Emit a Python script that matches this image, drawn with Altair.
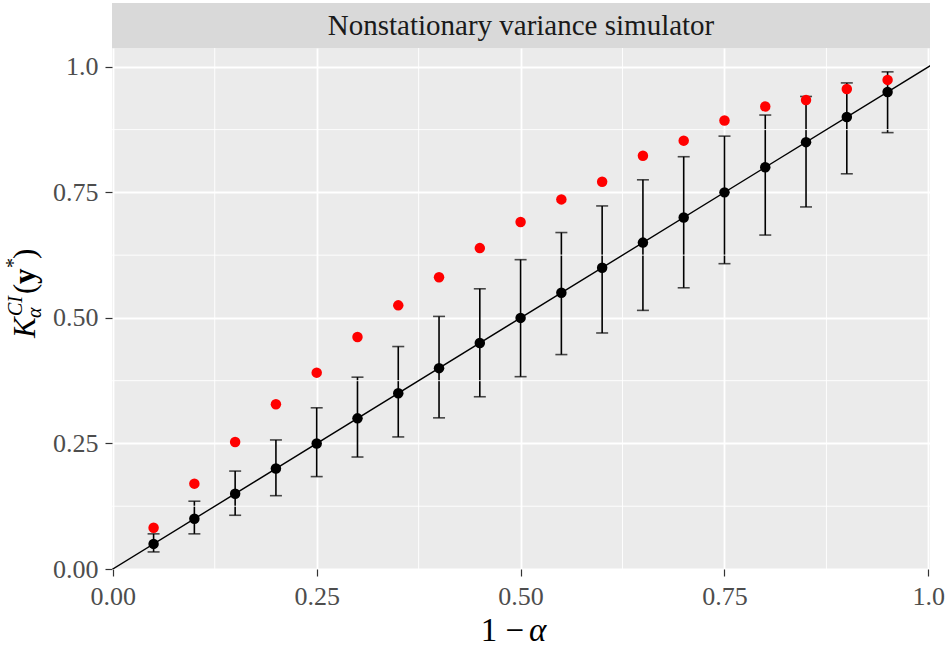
import altair as alt
import pandas as pd

# ---- data ----
levels = [0.05, 0.10, 0.15, 0.20, 0.25, 0.30, 0.35, 0.40, 0.45, 0.50,
          0.55, 0.60, 0.65, 0.70, 0.75, 0.80, 0.85, 0.90, 0.95]
nominal = [0.05, 0.10, 0.15, 0.20, 0.25, 0.30, 0.35, 0.40, 0.45, 0.50,
           0.55, 0.60, 0.65, 0.70, 0.75, 0.80, 0.85, 0.90, 0.95]
lower = [0.034, 0.070, 0.107, 0.146, 0.184, 0.223, 0.263, 0.301, 0.343, 0.383,
         0.427, 0.470, 0.515, 0.560, 0.608, 0.665, 0.721, 0.787, 0.869]
upper = [0.070, 0.135, 0.195, 0.257, 0.321, 0.382, 0.443, 0.503, 0.558, 0.616,
         0.670, 0.723, 0.775, 0.821, 0.862, 0.904, 0.941, 0.968, 0.990]
observed = [0.082, 0.170, 0.253, 0.328, 0.391, 0.462, 0.525, 0.581, 0.639, 0.691,
            0.736, 0.771, 0.823, 0.853, 0.893, 0.921, 0.934, 0.956, 0.974]

ref_x = [-0.05, 1.1]
major_ticks = [0.0, 0.25, 0.5, 0.75, 1.0]
minor_ticks = [0.125, 0.375, 0.625, 0.875]

strip_title = "Nonstationary variance simulator"

df = pd.DataFrame({"level": levels, "nominal": nominal, "lower": lower,
                   "upper": upper, "observed": observed})
ref_df = pd.DataFrame({"a": ref_x, "b": ref_x})
minor_df = pd.DataFrame({"m": minor_ticks})

W, H = 818, 521
SERIF = "Liberation Serif"

xscale = alt.Scale(domain=[-0.001, 1.002], nice=False, zero=False)
yscale = alt.Scale(domain=[0.0, 1.0375], nice=False, zero=False)

label_expr = "datum.value == 1 ? '1.0' : format(datum.value, '.2f')"
axis_common = dict(values=major_ticks, labelExpr=label_expr, title=None,
                   grid=True, gridColor="white", gridWidth=1.8,
                   domain=False, tickColor="#333333", tickSize=7, tickWidth=1.2,
                   labelFont=SERIF, labelFontSize=26, labelColor="#4d4d4d",
                   labelPadding=7)

X = alt.X("level:Q", scale=xscale, axis=alt.Axis(**axis_common, labelFlush=False))
Y_axis = alt.Axis(**axis_common)

base = alt.Chart(df)

minor_x = alt.Chart(minor_df).mark_rule(color="white", strokeWidth=0.9).encode(
    x=alt.X("m:Q", scale=xscale))
minor_y = alt.Chart(minor_df).mark_rule(color="white", strokeWidth=0.9).encode(
    y=alt.Y("m:Q", scale=yscale))

refline = alt.Chart(ref_df).mark_line(color="black", strokeWidth=1.4, clip=True).encode(
    x=alt.X("a:Q", scale=xscale),
    y=alt.Y("b:Q", scale=yscale))

bars = base.mark_rule(color="black", strokeWidth=1.6).encode(
    x=X,
    y=alt.Y("lower:Q", scale=yscale, axis=Y_axis),
    y2="upper:Q")
cap_lo = base.mark_tick(color="black", orient="horizontal", size=12, thickness=1.6).encode(
    x=alt.X("level:Q", scale=xscale), y=alt.Y("lower:Q", scale=yscale))
cap_hi = base.mark_tick(color="black", orient="horizontal", size=12, thickness=1.6).encode(
    x=alt.X("level:Q", scale=xscale), y=alt.Y("upper:Q", scale=yscale))

black_pts = base.mark_circle(color="black", opacity=1, size=110).encode(
    x=alt.X("level:Q", scale=xscale), y=alt.Y("nominal:Q", scale=yscale))
red_pts = base.mark_circle(color="#FF0000", opacity=1, size=110).encode(
    x=alt.X("level:Q", scale=xscale), y=alt.Y("observed:Q", scale=yscale))


def one(text):
    return alt.Chart(alt.InlineData(values=[{"t": text}]))


strip_rect = one("").mark_rect(color="#D9D9D9").encode(
    x=alt.value(0), x2=alt.value(W), y=alt.value(-45), y2=alt.value(0))
strip_text = one(strip_title).mark_text(font=SERIF, fontSize=29, color="#1a1a1a",
                                        align="center", baseline="middle").encode(
    x=alt.value(W / 2), y=alt.value(-22), text="t:N")

# x title: 1 − α
xt1 = one("1 \u2212").mark_text(font=SERIF, fontSize=33, color="black",
                                  align="right", baseline="alphabetic").encode(
    x=alt.value(412), y=alt.value(593), text="t:N")
xt2 = one("\u03b1").mark_text(font=SERIF, fontSize=33, fontStyle="italic", color="black",
                               align="left", baseline="alphabetic").encode(
    x=alt.value(417), y=alt.value(593), text="t:N")

# y title: K_alpha^{CI}(y*)
def ypiece(text, bx, start, size, style="normal", weight="normal"):
    return one(text).mark_text(font=SERIF, fontSize=size, fontStyle=style, fontWeight=weight,
                               color="black", angle=270, align="left",
                               baseline="alphabetic").encode(
        x=alt.value(bx), y=alt.value(start), text="t:N")

yt = [
    ypiece("K", -77, 290, 31, style="italic"),
    ypiece("CI", -90, 268, 20, style="italic"),
    ypiece("\u03b1", -71, 270, 20, style="italic"),
    ypiece("(", -77, 246, 31),
    ypiece("y", -77, 236, 31, weight="bold"),
    ypiece("*", -92, 220, 20),
    ypiece(")", -77, 211, 31),
]

chart = alt.layer(
    bars, minor_x, minor_y, refline, cap_lo, cap_hi, black_pts, red_pts,
    strip_rect, strip_text, xt1, xt2, *yt
).properties(
    width=W, height=H,
    background="white",
    autosize=alt.AutoSizeParams(type="none"),
    padding={"left": 112, "top": 48, "right": 19, "bottom": 79},
).configure_view(
    fill="#EBEBEB", stroke=None
)

chart.save("out.html", embed_options={"renderer": "svg", "actions": False})
